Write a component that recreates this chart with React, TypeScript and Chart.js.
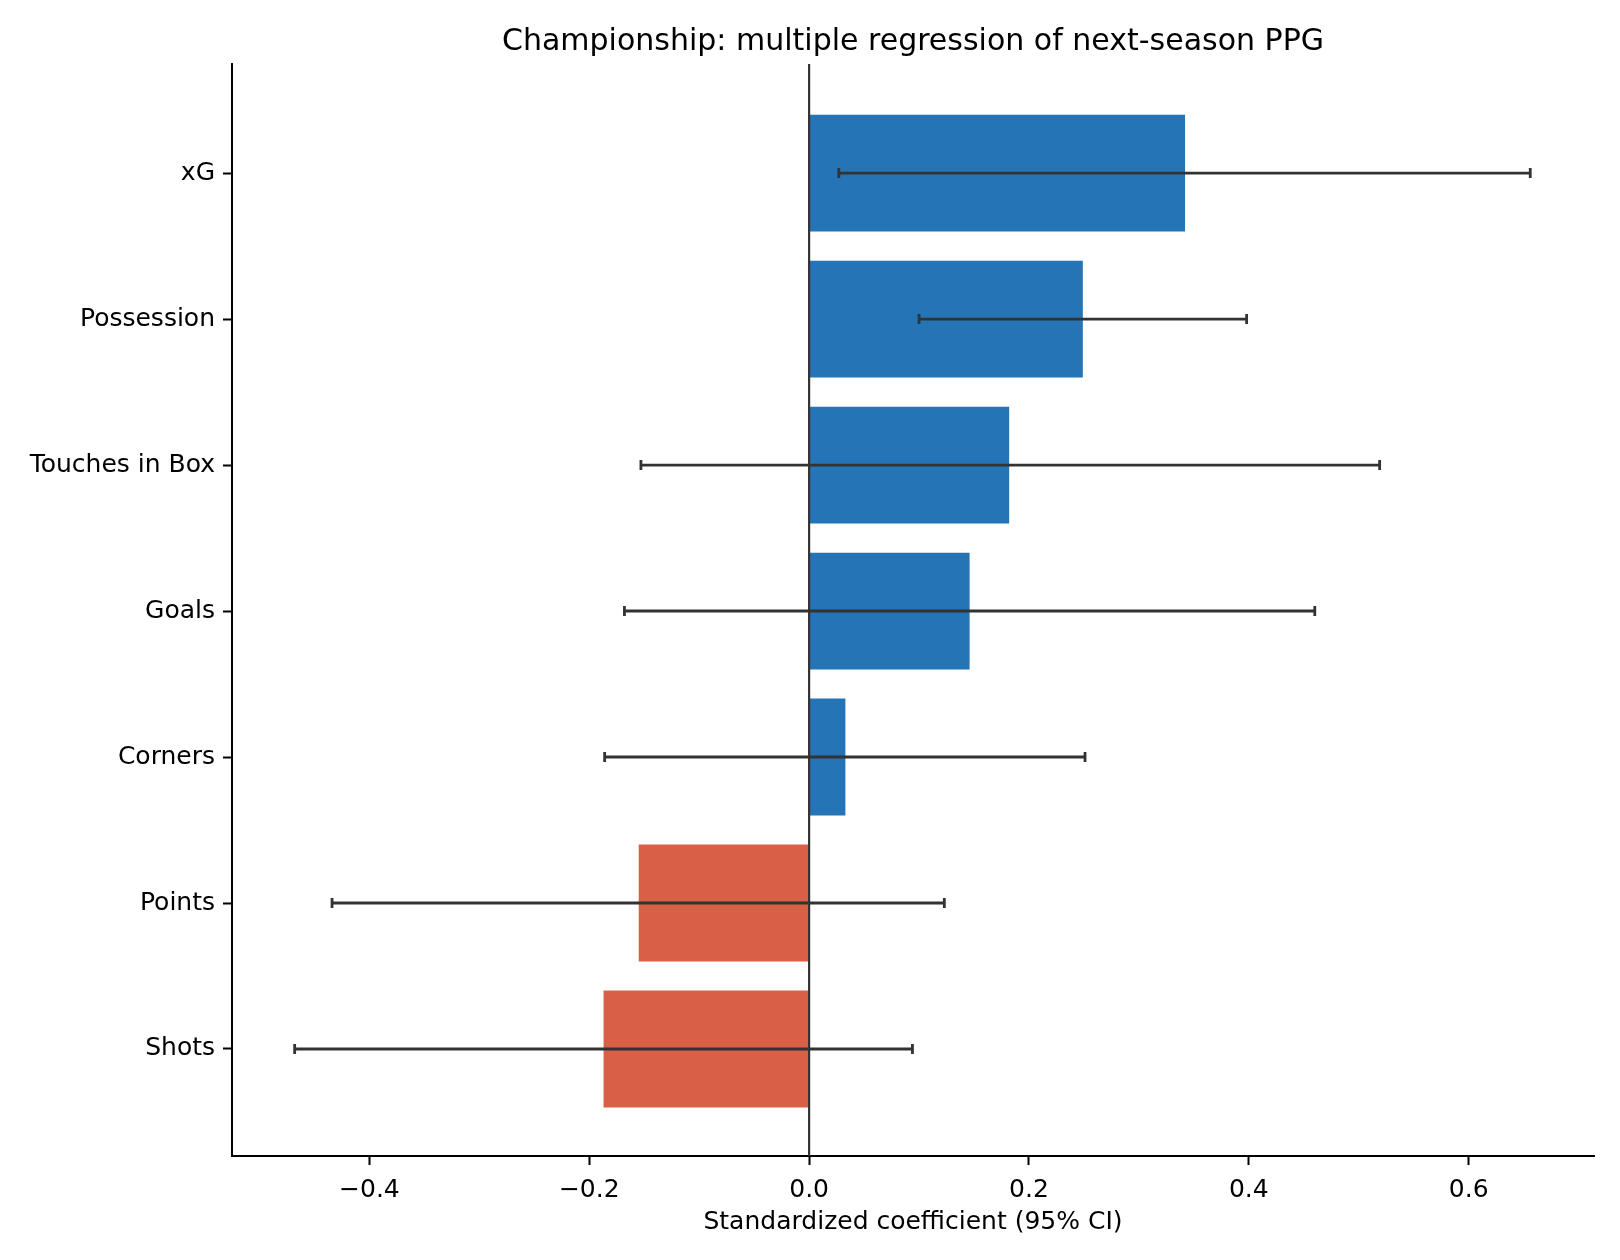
import React, { useEffect, useRef } from 'react';
import Chart from 'chart.js/auto';

// === Data (top to bottom, as drawn) ===
const FACTORS = ['xG', 'Possession', 'Touches in Box', 'Goals', 'Corners', 'Points', 'Shots'];
const COEFS = [0.342, 0.249, 0.182, 0.146, 0.033, -0.155, -0.187];
const CI_LOW = [0.027, 0.1, -0.153, -0.168, -0.186, -0.434, -0.468];
const CI_HIGH = [0.656, 0.398, 0.519, 0.46, 0.251, 0.123, 0.094];
const X_TICKS = [-0.4, -0.2, 0.0, 0.2, 0.4, 0.6];

const POS_COLOR = '#2574b5';
const NEG_COLOR = '#d96046';
const FONT = 'DejaVu Sans';

// y position of each factor: first in list sits at the top
const yPos = (i: number) => FACTORS.length - 1 - i;

// zero line + error bars, drawn through the chart's own scales
const errorBarPlugin = {
  id: 'errorBars',
  afterDatasetsDraw(chart: any) {
    const { ctx, scales, chartArea } = chart;
    const x = scales.x;
    const y = scales.y;
    ctx.save();
    // vertical reference line at 0
    const x0 = x.getPixelForValue(0);
    ctx.strokeStyle = '#333';
    ctx.lineWidth = 2.2;
    ctx.beginPath();
    ctx.moveTo(x0, chartArea.top);
    ctx.lineTo(x0, chartArea.bottom);
    ctx.stroke();
    // CI whiskers
    ctx.strokeStyle = '#333';
    ctx.lineWidth = 2.8;
    FACTORS.forEach((_, i) => {
      const py = y.getPixelForValue(yPos(i));
      const lo = x.getPixelForValue(CI_LOW[i]);
      const hi = x.getPixelForValue(CI_HIGH[i]);
      ctx.beginPath();
      ctx.moveTo(lo, py);
      ctx.lineTo(hi, py);
      ctx.moveTo(lo, py - 5);
      ctx.lineTo(lo, py + 5);
      ctx.moveTo(hi, py - 5);
      ctx.lineTo(hi, py + 5);
      ctx.stroke();
    });
    ctx.restore();
  },
};

const App: React.FC = () => {
  const canvasRef = useRef<HTMLCanvasElement>(null);

  useEffect(() => {
    if (!canvasRef.current) return;
    const chart = new Chart(canvasRef.current, {
      type: 'bar',
      data: {
        datasets: [
          {
            data: FACTORS.map((_, i) => ({ x: COEFS[i], y: yPos(i) })),
            backgroundColor: COEFS.map(v => (v >= 0 ? POS_COLOR : NEG_COLOR)),
            borderWidth: 0,
            categoryPercentage: 1,
            barPercentage: 0.8,
          },
        ],
      },
      options: {
        indexAxis: 'y',
        animation: false,
        responsive: false,
        devicePixelRatio: 1,
        layout: { padding: { left: 0, right: 26, top: 0, bottom: 0 } },
        plugins: {
          legend: { display: false },
          tooltip: { enabled: false },
          title: {
            display: true,
            fullSize: false,
            text: 'Championship: multiple regression of next-season PPG',
            color: '#000',
            font: { family: FONT, size: 30, weight: 'normal' },
            padding: { top: 24, bottom: 4 },
          },
        },
        scales: {
          x: {
            type: 'linear',
            min: -0.525,
            max: 0.714,
            afterBuildTicks: (scale: any) => {
              scale.ticks = X_TICKS.map(v => ({ value: v }));
            },
            afterFit: (scale: any) => {
              scale.height = 104;
            },
            ticks: {
              color: '#000',
              font: { family: FONT, size: 25 },
              padding: 10,
              maxRotation: 0,
              callback: (v: any) => Number(v).toFixed(1).replace('-', '\u2212'),
            },
            grid: {
              drawOnChartArea: false,
              drawTicks: true,
              tickLength: 9,
              tickWidth: 2,
              tickColor: '#000',
            },
            border: { display: true, color: '#000', width: 2 },
            title: {
              display: true,
              text: 'Standardized coefficient (95% CI)',
              color: '#000',
              font: { family: FONT, size: 25 },
              padding: { top: 0, bottom: 23 },
            },
          },
          y: {
            type: 'linear',
            min: -0.733,
            max: 6.747,
            offset: false,
            afterBuildTicks: (scale: any) => {
              scale.ticks = FACTORS.map((_, i) => ({ value: yPos(i) }));
            },
            afterFit: (scale: any) => {
              scale.width = 232;
            },
            ticks: {
              color: '#000',
              font: { family: FONT, size: 25 },
              padding: 8,
              callback: (v: any) => FACTORS[FACTORS.length - 1 - Number(v)] ?? '',
            },
            grid: {
              offset: false,
              drawOnChartArea: false,
              drawTicks: true,
              tickLength: 9,
              tickWidth: 2,
              tickColor: '#000',
            },
            border: { display: true, color: '#000', width: 2 },
          },
        },
      },
      plugins: [errorBarPlugin],
    });
    return () => chart.destroy();
  }, []);

  return (
    <div style={{ position: 'absolute', left: 0, top: 0, width: 1620, height: 1260, background: '#fff' }}>
      <canvas ref={canvasRef} width={1620} height={1260} />
    </div>
  );
};

export default App;
